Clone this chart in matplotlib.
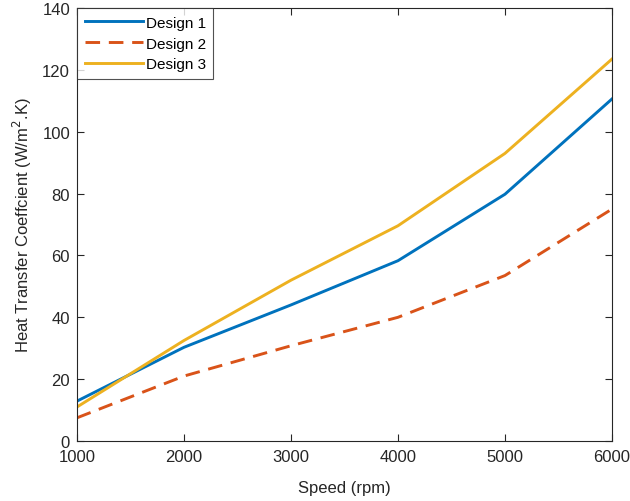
import matplotlib
matplotlib.use("Agg")
import matplotlib.pyplot as plt

plt.rcParams['font.family'] = ['Liberation Sans', 'DejaVu Sans']

speed = [1000, 2000, 3000, 4000, 5000, 6000]
design1 = [12.9, 30.3, 44.0, 58.3, 79.8, 110.6]
design2 = [7.5, 21.0, 30.8, 40.0, 53.5, 75.0]
design3 = [11.0, 32.5, 52.0, 69.6, 93.0, 123.5]
xticks = [1000, 2000, 3000, 4000, 5000, 6000]
yticks = [0, 20, 40, 60, 80, 100, 120, 140]

fig = plt.figure(figsize=(6.3, 5.02), dpi=100)
ax = fig.add_axes([0.1222, 0.1195, 0.8492, 0.8625])

ax.plot(speed, design1, color='#0072BD', lw=2.1, label='Design 1')
ax.plot(speed, design2, color='#D95319', lw=2.1, ls=(0, (5, 3)), label='Design 2')
ax.plot(speed, design3, color='#EDB120', lw=2.1, label='Design 3')

ax.set_xlim(1000, 6000)
ax.set_ylim(0, 140)
ax.set_xticks(xticks)
ax.set_yticks(yticks)
ax.tick_params(direction='in', top=True, right=True, labelsize=12,
               color='#262626', labelcolor='#262626', length=5, width=0.8)
ax.tick_params(axis='x', pad=6)
ax.tick_params(axis='y', pad=5)
for s in ax.spines.values():
    s.set_color('#262626')
    s.set_linewidth(0.8)

ax.set_xlabel('Speed (rpm)', fontsize=12, color='#262626', labelpad=11)
ax.set_ylabel('Heat Transfer Coeffcient (W/m$^2$.K)', fontsize=12, color='#262626',
              labelpad=6)

leg = ax.legend(loc='upper left', fontsize=11, handlelength=3.8, frameon=True,
                fancybox=False, borderaxespad=0, borderpad=0.5, labelspacing=0.45,
                handletextpad=0.2)
leg.get_frame().set_edgecolor('#262626')
leg.get_frame().set_linewidth(0.8)

fig.savefig('out.png', dpi=100)
